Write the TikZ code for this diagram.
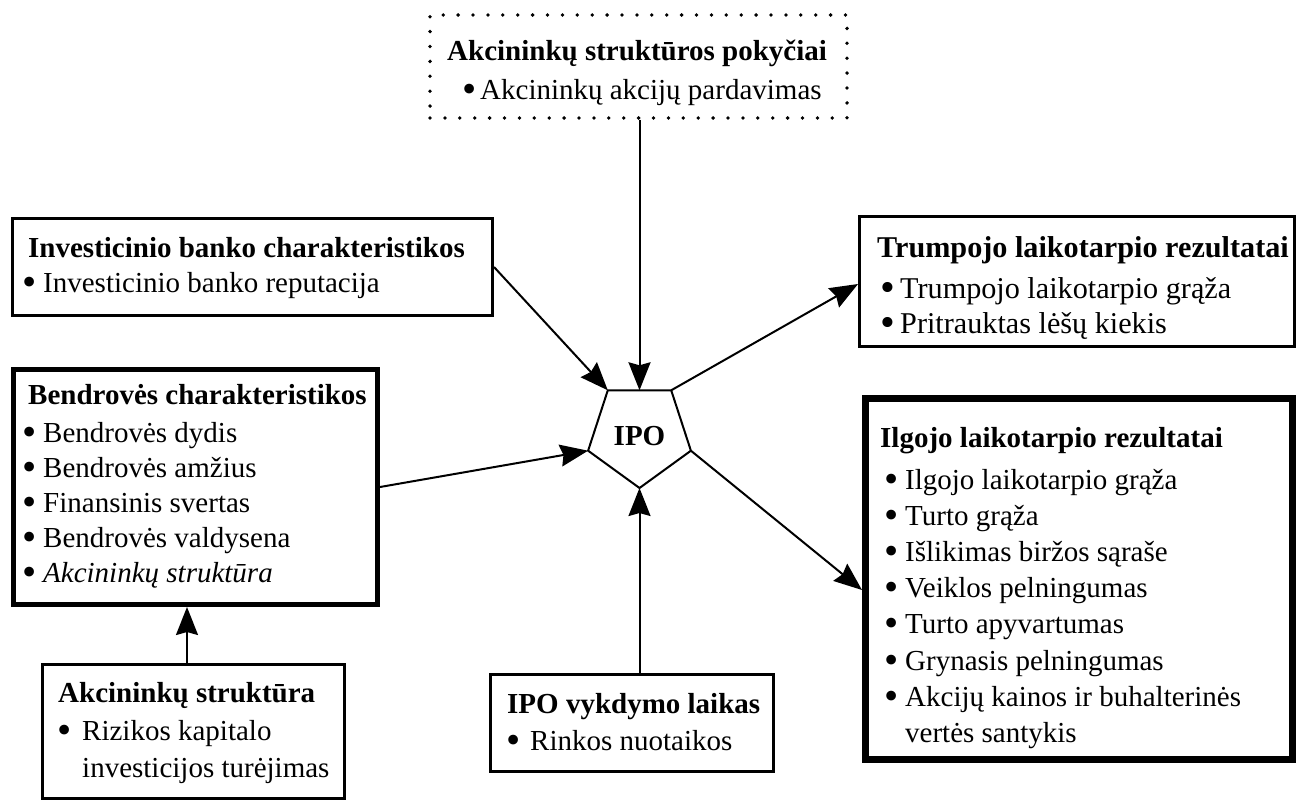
\documentclass[tikz,border=0pt]{standalone}
\usepackage{fontspec}
\setmainfont{Liberation Serif}
\usetikzlibrary{arrows.meta,calc}
\newcommand{\fsz}{\fontsize{29}{35}\selectfont}
\newcommand{\fszb}{\fontsize{30.2}{36}\selectfont}
\newcommand{\bulw}[1]{\makebox[#1pt][l]{\raisebox{-3.5pt}[0pt][0pt]{\scalebox{1.4}{\textbullet}}}}
\begin{document}
\begin{tikzpicture}[x=1pt,y=-1pt,
  box/.style={draw, line width=3pt, inner sep=0pt},
  ttl/.style={anchor=base west, inner sep=0pt, font=\fsz\bfseries},
  itm/.style={anchor=base west, inner sep=0pt, font=\fsz},
  arr/.style={-{Stealth[length=28pt,width=22pt,inset=3pt]}, line width=2pt},
]
\useasboundingbox (0,0) rectangle (1305,800);

% top dotted box
\node[box, dash pattern=on 0pt off 14.9pt, line cap=round, line width=3.8pt,
      minimum width=417pt, minimum height=103pt] (top) at (638.5,66.5) {};
\node[ttl] (topT) at (447,60) {Akcininkų struktūros pokyčiai};
\node[itm] (top1) at (462.5,99) {\bulw{17.5}Akcininkų akcijų pardavimas};

% investicinio banko
\node[box, minimum width=480pt, minimum height=97pt] (inv) at (252.5,267) {};
\node[ttl] (invT) at (28,257) {Investicinio banko charakteristikos};
\node[itm] (inv1) at (22.5,292) {\bulw{20.5}Investicinio banko reputacija};

% bendroves
\node[box, line width=5pt, minimum width=364pt, minimum height=235pt] (bend) at (195.5,487) {};
\node[ttl] (bendT) at (28,404) {Bendrovės charakteristikos};
\node[itm] (bend1) at (22.5,442) {\bulw{20.5}Bendrovės dydis};
\node[itm] (bend2) at (22.5,477) {\bulw{20.5}Bendrovės amžius};
\node[itm] (bend3) at (22.5,512) {\bulw{20.5}Finansinis svertas};
\node[itm] (bend4) at (22.5,547) {\bulw{20.5}Bendrovės valdysena};
\node[itm] (bend5) at (22.5,582) {\bulw{20.5}\textit{Akcininkų struktūra}};

% trumpojo
\node[box, minimum width=435pt, minimum height=130pt] (tr) at (1077,281.5) {};
\node[ttl, font=\fszb\bfseries] (trT) at (877,257) {Trumpojo laikotarpio rezultatai};
\node[itm, font=\fszb] (tr1) at (880.5,298) {\bulw{19.5}Trumpojo laikotarpio grąža};
\node[itm, font=\fszb] (tr2) at (880.5,333) {\bulw{19.5}Pritrauktas lėšų kiekis};

% ilgojo
\node[box, line width=7pt, minimum width=427pt, minimum height=361pt] (ilg) at (1079,579) {};
\node[ttl] (ilgT) at (880,447) {Ilgojo laikotarpio rezultatai};
\node[itm] (ilg1) at (884.5,489) {\bulw{20.5}Ilgojo laikotarpio grąža};
\node[itm] (ilg2) at (884.5,525) {\bulw{20.5}Turto grąža};
\node[itm] (ilg3) at (884.5,561) {\bulw{20.5}Išlikimas biržos sąraše};
\node[itm] (ilg4) at (884.5,597) {\bulw{20.5}Veiklos pelningumas};
\node[itm] (ilg5) at (884.5,633) {\bulw{20.5}Turto apyvartumas};
\node[itm] (ilg6) at (884.5,670) {\bulw{20.5}Grynasis pelningumas};
\node[itm] (ilg7) at (884.5,706) {\bulw{20.5}Akcijų kainos ir buhalterinės};
\node[itm] (ilg8) at (905,742) {vertės santykis};

% akcininku struktura
\node[box, minimum width=302pt, minimum height=134pt] (ak) at (193.5,731.5) {};
\node[ttl] (akT) at (58,702) {Akcininkų struktūra};
\node[itm] (ak1) at (57.5,740) {\bulw{24.5}Rizikos kapitalo};
\node[itm] (ak2) at (82,777) {investicijos turėjimas};

% IPO vykdymo laikas
\node[box, minimum width=283pt, minimum height=97pt] (ipt) at (632,723) {};
\node[ttl] (iptT) at (507,713) {IPO vykdymo laikas};
\node[itm] (ipt1) at (506.5,750) {\bulw{23.5}Rinkos nuotaikos};

% pentagon
\coordinate (pb) at (639.5,488);
\coordinate (pr) at (690.9,450.7);
\coordinate (ptr) at (671.2,390.3);
\coordinate (ptl) at (607.8,390.3);
\coordinate (pl) at (588.1,450.7);
\coordinate (ptm) at (639.5,390.3);
\draw[line width=2pt, line join=miter] (pb) -- (pr) -- (ptr) -- (ptl) -- (pl) -- cycle;
\node[anchor=base, inner sep=0pt, font=\fsz\bfseries] (ipo) at (639.5,445) {IPO};

% connectors
\draw[arr] (top.south -| ptm) -- (ptm);
\draw[arr] (inv.east) -- (ptl);
\draw[arr] (bend.east) -- (pl);
\draw[arr] (ptr) -- ([yshift=-2.5pt]tr.west);
\draw[arr] (pr) -- ([yshift=-11pt]ilg.west);
\draw[arr] (ipt.north -| pb) -- (pb);
\coordinate (akx) at (187,0);
\draw[arr] (akx |- ak.north) -- (akx |- bend.south);
\end{tikzpicture}
\end{document}
